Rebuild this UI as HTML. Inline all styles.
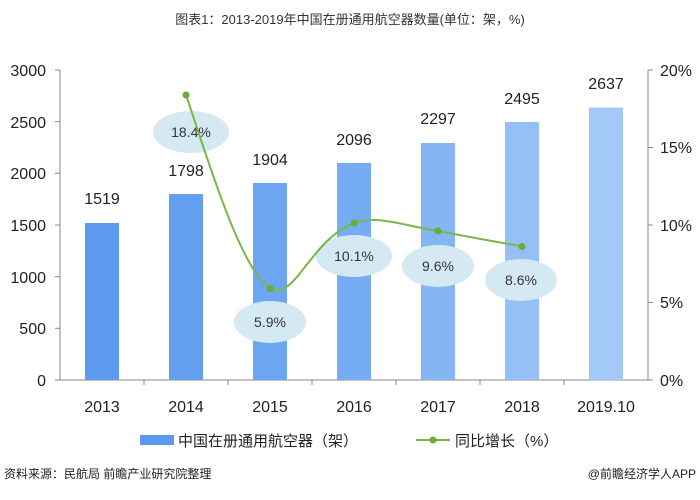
<!DOCTYPE html>
<html><head><meta charset="utf-8"><style>
body{margin:0;background:#fff;}
svg text{font-family:"Liberation Sans","Noto Sans CJK SC",sans-serif;}
</style></head><body>
<svg width="700" height="495" viewBox="0 0 700 495" xmlns="http://www.w3.org/2000/svg">
<defs>
<linearGradient id="g1" x1="0" y1="0" x2="0" y2="1"><stop offset="0" stop-color="#6aa6f2"/><stop offset="1" stop-color="#5a98ee"/></linearGradient>
</defs>
<text x="350" y="24" font-size="13" text-anchor="middle" fill="#333">图表1：2013-2019年中国在册通用航空器数量(单位：架，%)</text>
<!-- axes -->
<line x1="60" y1="70" x2="60" y2="380" stroke="#888"/>
<line x1="60" y1="380" x2="648" y2="380" stroke="#888"/>
<line x1="648" y1="70" x2="648" y2="380" stroke="#888"/>
<g stroke="#888">
<line x1="55" y1="70" x2="60" y2="70"/><line x1="55" y1="121.7" x2="60" y2="121.7"/><line x1="55" y1="173.3" x2="60" y2="173.3"/><line x1="55" y1="225" x2="60" y2="225"/><line x1="55" y1="276.7" x2="60" y2="276.7"/><line x1="55" y1="328.3" x2="60" y2="328.3"/><line x1="55" y1="380" x2="60" y2="380"/>
<line x1="648" y1="70" x2="653" y2="70"/><line x1="648" y1="147.5" x2="653" y2="147.5"/><line x1="648" y1="225" x2="653" y2="225"/><line x1="648" y1="302.5" x2="653" y2="302.5"/><line x1="648" y1="380" x2="653" y2="380"/>
<line x1="144" y1="380" x2="144" y2="385"/><line x1="228" y1="380" x2="228" y2="385"/><line x1="312" y1="380" x2="312" y2="385"/><line x1="396" y1="380" x2="396" y2="385"/><line x1="480" y1="380" x2="480" y2="385"/><line x1="564" y1="380" x2="564" y2="385"/>
</g>
<g font-size="16" fill="#222" text-anchor="end">
<text x="46" y="76">3000</text><text x="46" y="128">2500</text><text x="46" y="179">2000</text><text x="46" y="231">1500</text><text x="46" y="283">1000</text><text x="46" y="334">500</text><text x="46" y="386">0</text>
</g>
<g font-size="16" fill="#222" text-anchor="start">
<text x="660" y="76">20%</text><text x="660" y="153">15%</text><text x="660" y="231">10%</text><text x="660" y="308">5%</text><text x="660" y="386">0%</text>
</g>
<!-- bars -->
<rect x="85" y="223" width="34" height="157" fill="#5c9bf0"/>
<rect x="169" y="194" width="34" height="186" fill="#649ff0"/>
<rect x="253" y="183" width="34" height="197" fill="#6ca6f2"/>
<rect x="337" y="163" width="34" height="217" fill="#76acf3"/>
<rect x="421" y="143" width="34" height="237" fill="#84b6f5"/>
<rect x="505" y="122" width="34" height="258" fill="#94c0f7"/>
<rect x="589" y="107.5" width="34" height="272.5" fill="#a2c9f8"/>
<g font-size="16" fill="#222" text-anchor="middle">
<text x="102" y="204">1519</text><text x="186" y="176">1798</text><text x="270" y="165">1904</text><text x="354" y="145">2096</text><text x="438" y="124">2297</text><text x="522" y="104">2495</text><text x="606" y="89">2637</text>
</g>
<g font-size="16" fill="#222" text-anchor="middle">
<text x="102" y="412">2013</text><text x="186" y="412">2014</text><text x="270" y="412">2015</text><text x="354" y="412">2016</text><text x="438" y="412">2017</text><text x="522" y="412">2018</text><text x="606" y="412">2019.10</text>
</g>
<!-- label ellipses -->
<g fill="#d5e9f3">
<ellipse cx="191" cy="132" rx="38" ry="21"/>
<ellipse cx="270" cy="322" rx="36" ry="21"/>
<ellipse cx="354" cy="256" rx="38" ry="21"/>
<ellipse cx="438" cy="266" rx="36" ry="21"/>
<ellipse cx="521" cy="280" rx="36" ry="21"/>
</g>
<g font-size="14" fill="#333" text-anchor="middle">
<text x="191" y="137">18.4%</text><text x="270" y="327">5.9%</text><text x="354" y="261">10.1%</text><text x="438" y="271">9.6%</text><text x="521" y="285">8.6%</text>
</g>
<!-- line -->
<path d="M186 95 C205 150,240 270,270 288 C295 302,310 240,354 223 C380 215,400 225,438 231 C470 237,500 243,522 246" fill="none" stroke="#7ab648" stroke-width="2"/>
<g fill="#6aab3a">
<circle cx="186" cy="95" r="3.5"/><circle cx="270" cy="288.5" r="3.5"/><circle cx="354" cy="223" r="3.5"/><circle cx="438" cy="231" r="3.5"/><circle cx="522" cy="246.5" r="3.5"/>
</g>
<!-- legend -->
<rect x="140" y="435" width="34" height="10" fill="#5c9bf0"/>
<text x="178" y="446" font-size="15" fill="#222">中国在册通用航空器（架）</text>
<line x1="416" y1="440" x2="450" y2="440" stroke="#7ab648" stroke-width="2"/>
<circle cx="433" cy="440" r="3.5" fill="#6aab3a"/>
<text x="455" y="446" font-size="15" fill="#222">同比增长（%）</text>
<text x="4" y="478" font-size="12" fill="#222">资料来源：民航局 前瞻产业研究院整理</text>
<text x="696" y="478" font-size="12" fill="#222" text-anchor="end">@前瞻经济学人APP</text>
</svg>
</body></html>
